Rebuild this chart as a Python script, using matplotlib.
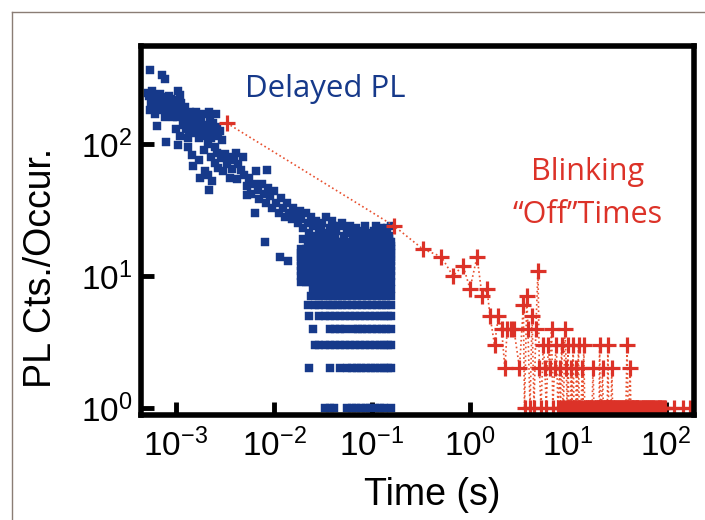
import numpy as np
import matplotlib
matplotlib.use('Agg')
import matplotlib.pyplot as plt
from matplotlib.lines import Line2D
from matplotlib.ticker import LogLocator, NullLocator

plt.rcParams['font.family'] = 'Liberation Sans'
plt.rcParams['mathtext.fontset'] = 'custom'
plt.rcParams['mathtext.rm'] = 'Liberation Sans'
plt.rcParams['mathtext.it'] = 'Liberation Sans:italic'
plt.rcParams['axes.unicode_minus'] = False

blue = '#16398a'
red = '#dc3228'

# delayed PL histogram - upper scattered cloud (time in s, counts)
cloud_t = [5.4e-4, 7.2e-4, 7.7e-4, 5.2e-4, 6.4e-4, 8.0e-4, 1.05e-3, 1.33e-3,
           5.3e-4, 5.6e-4, 5.8e-4, 6.0e-4, 6.2e-4, 6.5e-4, 6.7e-4, 7.0e-4, 7.3e-4, 7.6e-4,
           8.0e-4, 8.3e-4, 8.7e-4, 9.0e-4, 9.5e-4, 1.0e-3, 1.05e-3, 1.1e-3, 1.08e-3, 9.3e-4,
           5.5e-4, 6.9e-4, 7.8e-4,
           5.7e-4, 6.1e-4, 6.3e-4, 6.6e-4, 6.8e-4, 7.1e-4, 7.4e-4, 7.9e-4, 8.5e-4, 8.9e-4,
           9.2e-4, 9.8e-4, 1.02e-3, 1.13e-3, 1.18e-3, 1.22e-3, 1.28e-3, 1.38e-3, 1.45e-3, 1.58e-3,
           1.75e-3, 1.9e-3, 2.35e-3, 2.65e-3, 2.2e-3, 1.62e-3, 1.32e-3,
           1.15e-3, 1.2e-3, 1.25e-3, 1.3e-3, 1.35e-3, 1.4e-3, 1.5e-3, 1.55e-3, 1.6e-3, 1.65e-3,
           1.7e-3, 1.8e-3, 1.85e-3, 1.9e-3, 2.0e-3, 2.05e-3, 2.1e-3, 2.2e-3, 2.25e-3, 2.3e-3,
           2.4e-3, 2.45e-3, 2.5e-3, 2.6e-3, 2.56e-3, 2.7e-3, 2.8e-3, 2.95e-3, 1.0e-3, 1.1e-3,
           2.15e-3, 1.95e-3,
           1.45e-3, 1.5e-3, 1.7e-3, 1.75e-3, 2.1e-3, 2.15e-3, 2.35e-3, 2.3e-3, 2.5e-3, 2.6e-3,
           2.7e-3, 2.9e-3, 3.0e-3, 3.2e-3, 3.3e-3, 3.5e-3, 3.7e-3, 3.9e-3, 4.1e-3, 4.3e-3,
           4.6e-3, 4.8e-3, 3.56e-3, 4.2e-3, 2.0e-3,
           5.0e-3, 5.3e-3, 5.6e-3, 5.9e-3, 6.2e-3, 6.5e-3, 6.8e-3, 7.1e-3, 7.5e-3, 7.9e-3,
           8.3e-3, 8.7e-3, 9.1e-3, 9.6e-3, 0.0101, 0.0106, 0.0112, 0.0118, 0.0124, 0.013,
           0.0137, 0.0144, 0.0151, 0.0158, 0.0166, 0.0175, 0.0183, 8.5e-3, 6.4e-3, 5.3e-3,
           0.019, 0.02, 0.021, 0.022, 0.023, 0.024, 0.025, 0.026, 0.027, 0.029,
           0.03, 0.031, 0.033, 0.034, 0.036, 0.037, 0.039, 0.041, 0.043, 0.045,
           0.047, 0.05, 0.052, 0.055, 0.058, 0.061, 0.064, 0.068, 0.072, 0.076,
           0.08, 0.085, 0.09, 0.095, 0.1, 0.106, 0.112, 0.118, 0.125, 0.132,
           0.14, 0.148, 0.156, 0.15, 0.157, 8.1e-3, 0.0115, 0.014,
           0.02, 0.022, 0.024, 0.026, 0.028, 0.032, 0.035, 0.038, 0.042, 0.046,
           0.05, 0.054, 0.06, 0.066, 0.074, 0.082, 0.088, 0.097, 0.104, 0.115,
           0.122, 0.13, 0.138, 0.145, 0.152, 0.157, 0.03, 0.04, 0.06, 0.078,
           0.11, 0.142]
cloud_n = [364, 333, 310, 243, 137, 104, 98, 95,
           230, 205, 215, 190, 235, 200, 180, 210, 225, 195,
           170, 205, 185, 220, 175, 200, 250, 235, 185, 160,
           180, 240, 160,
           250, 170, 215, 225, 195, 185, 205, 215, 230, 195,
           180, 215, 160, 205, 150, 175, 130, 160, 135, 145,
           130, 120, 140, 125, 120, 175, 110,
           165, 140, 190, 155, 125, 175, 145, 120, 160, 135,
           110, 150, 125, 170, 140, 115, 100, 155, 130, 110,
           145, 120, 95, 135, 170, 115, 125, 107, 130, 115,
           175, 90,
           83, 68, 75, 55, 58, 45, 52, 80, 72, 85,
           66, 78, 62, 84, 70, 80, 65, 75, 86, 70,
           64, 80, 55, 54, 62,
           58, 48, 55, 42, 50, 62, 45, 38, 50, 42,
           36, 46, 40, 33, 44, 36, 30, 39, 33, 28,
           36, 30, 27, 33, 29, 25, 31, 64, 30, 41,
           27, 23, 30, 25, 21, 28, 24, 20, 26, 22,
           19, 25, 21, 28, 18, 23, 26, 20, 22, 18,
           24, 25, 20, 22, 18, 21, 19, 23, 20, 18,
           22, 24, 19, 21, 18, 22, 20, 19, 23, 18,
           21, 19, 24, 20, 18, 18, 14, 13,
           19, 17, 19, 17, 18, 17, 20, 17, 19, 17,
           18, 17, 17, 18, 17, 19, 17, 17, 20, 17,
           17, 20, 17, 17, 18, 17, 23, 24, 24, 21,
           24, 23]

# discrete low-count levels
lvl1_t = [0.033, 0.037, 0.041, 0.056, 0.062, 0.069, 0.077, 0.086, 0.096, 0.107, 0.12, 0.134, 0.157]
lvl2_t = [0.023, 0.037, 0.047, 0.055, 0.062, 0.07, 0.078, 0.087, 0.097, 0.108, 0.12, 0.134, 0.145, 0.157]
lvl3_t = [0.026, 0.029, 0.033, 0.037, 0.042, 0.047, 0.053, 0.06, 0.067, 0.075, 0.085, 0.095, 0.107, 0.12, 0.134, 0.145, 0.157]
lvl4_t = [0.025, 0.037, 0.042, 0.047, 0.053, 0.064, 0.072, 0.08, 0.09, 0.1, 0.112, 0.126, 0.14, 0.157]
lvl5_t = [0.023, 0.029, 0.033, 0.037, 0.042, 0.047, 0.053, 0.06, 0.067, 0.075, 0.085, 0.095, 0.107, 0.12, 0.134, 0.145, 0.157]
lvl6_t = [0.022, 0.026, 0.029, 0.033, 0.037, 0.04, 0.045, 0.05, 0.056, 0.063, 0.07, 0.08, 0.09, 0.1, 0.112, 0.126, 0.14, 0.157]
lvl7_t = [0.024, 0.029, 0.032, 0.036, 0.04, 0.045, 0.05, 0.056, 0.063, 0.07, 0.08, 0.09, 0.1, 0.112, 0.126, 0.14, 0.157]
lvl8_t = [0.025, 0.028, 0.032, 0.036, 0.04, 0.045, 0.05, 0.056, 0.063, 0.07, 0.08, 0.09, 0.1, 0.112, 0.126, 0.14, 0.155]
band_t = [0.019, 0.021, 0.023, 0.025, 0.027, 0.03, 0.033, 0.036, 0.04, 0.044, 0.048, 0.053,
          0.058, 0.064, 0.07, 0.077, 0.085, 0.093, 0.102, 0.112, 0.123, 0.135, 0.146, 0.157]
band_n = [9, 10, 11, 12, 13, 14, 15, 16]

# blinking off-time histogram (time in s, occurrences)
red_t = [0.0033, 0.167, 0.33, 0.51, 0.67, 0.85, 1.0, 1.18, 1.33, 1.49,
         1.6, 1.78, 1.95, 2.1, 2.27, 2.4, 2.6, 2.8, 3.2, 3.5,
         3.6, 3.8, 3.9, 4.1, 4.3, 4.5, 4.7, 4.94, 5.1, 5.3,
         5.6, 5.8, 6.0, 6.3, 6.5, 6.8, 7.0, 7.3, 7.6, 7.9,
         8.2, 8.6, 8.9, 9.3, 9.6, 10.0, 10.4, 10.8, 11.3, 11.7,
         12.2, 12.8, 13.3, 14.0, 14.5, 15.2, 15.8, 16.5, 17.2, 18.0,
         18.7, 19.5, 20.2, 21.0, 21.7, 22.5, 23.2, 24.0, 24.8, 25.5,
         26.3, 27.0, 28.0, 29.0, 30.0, 31.5, 33.0, 34.5, 36.0, 38.0,
         40.0, 41.0, 42.0, 43.0, 44.5, 46.0, 48.0, 50.0, 52.0, 55.0,
         58.0, 61.0, 64.0, 67.0, 70.0, 74.0, 78.0, 82.0, 87.0, 92.0,
         97.0, 120.0, 150.0, 175.0]
red_n = [144, 24, 16, 14, 10, 12, 8, 14, 7, 8,
         5, 3, 5, 4, 2, 4, 4, 4, 2, 6,
         1, 7, 4, 1, 5, 1, 4, 11, 2, 1,
         3, 2, 1, 3, 2, 4, 1, 2, 3, 1,
         2, 3, 1, 4, 2, 3, 1, 2, 3, 1,
         2, 3, 1, 2, 3, 1, 1, 1, 1, 2,
         1, 1, 1, 3, 1, 2, 1, 1, 1, 3,
         1, 1, 2, 1, 1, 1, 1, 1, 1, 1,
         3, 1, 1, 2, 1, 1, 1, 1, 1, 1,
         1, 1, 1, 1, 1, 1, 1, 1, 1, 1,
         1, 1, 1, 1]
# extra single occurrences in the long-time tail
red_t1 = [8.4, 9.0, 9.8, 10.2, 10.6, 11.0, 11.5, 12.0, 12.5, 13.0, 13.6, 14.2, 14.8,
          15.5, 16.2, 16.9, 17.6, 18.4, 19.2, 20.0, 20.8, 21.4, 22.0, 22.9, 23.6, 24.4,
          25.2, 26.0, 26.7, 27.5, 28.5, 29.5, 30.7, 32.0, 33.7, 35.2, 37.0, 39.0, 41.5,
          43.8, 45.2, 47.0, 49.0, 51.0, 53.5, 56.5, 59.5, 62.5, 65.5, 68.5, 72.0, 76.0,
          80.0, 84.5, 89.5, 94.5]

fig = plt.figure(figsize=(7.05, 5.2), dpi=100)
ax = fig.add_axes([141/705, 105/520, 553/705, 369/520])

sq = dict(marker='s', ms=5.6, color=blue, mec=blue, mew=0.3, ls='none')
ax.plot(cloud_t, cloud_n, **sq)
for n, tt in zip(range(1, 9), [lvl1_t, lvl2_t, lvl3_t, lvl4_t, lvl5_t, lvl6_t, lvl7_t, lvl8_t]):
    ax.plot(tt, [n]*len(tt), **sq)
for n in band_n:
    ax.plot(band_t, [n]*len(band_t), **sq)

rt = np.array(red_t + red_t1)
rn = np.array(red_n + [1]*len(red_t1))
order = np.argsort(rt, kind='stable')
ax.plot(rt[order], rn[order], ls=':', lw=1.2, color='#e8502f')
ax.plot(rt, rn, marker='+', ms=11, mew=2.3, color=red, ls='none')

ax.set_xscale('log')
ax.set_yscale('log')
ax.set_xlim(4.4e-4, 193)
ax.set_ylim(0.885, 552)
ax.xaxis.set_major_locator(LogLocator(base=10, numticks=10))
ax.yaxis.set_major_locator(LogLocator(base=10, numticks=10))
ax.xaxis.set_minor_locator(NullLocator())
ax.yaxis.set_minor_locator(NullLocator())
ax.tick_params(which='major', direction='in', length=9.5, width=3.5, labelsize=24, color='black')
ax.tick_params(axis='x', pad=10)
ax.tick_params(axis='y', pad=6)
for s in ax.spines.values():
    s.set_linewidth(4)

fig.text(41/705, 1-268/520, 'PL Cts./Occur.', rotation=90, ha='center', va='center', fontsize=27)
fig.text(432/705, 1-495/520, 'Time (s)', ha='center', va='center', fontsize=27)

fig.text(245/705, 1-97/520, 'Delayed PL', color=blue, fontsize=22.5, family='Open Sans', ha='left', va='baseline')
fig.text(588/705, 1-180/520, 'Blinking', color=red, fontsize=22, family='Open Sans', ha='center', va='baseline')
fig.text(588/705, 1-223/520, '\u201cOff\u201dTimes', color=red, fontsize=22, family='Open Sans', ha='center', va='baseline')

fig.add_artist(Line2D([12/705, 12/705], [0, 1-12/520], color='#8a7d75', lw=1))
fig.add_artist(Line2D([12/705, 1], [1-12/520, 1-12/520], color='#8a7d75', lw=1))

fig.savefig('out.png', dpi=100)
